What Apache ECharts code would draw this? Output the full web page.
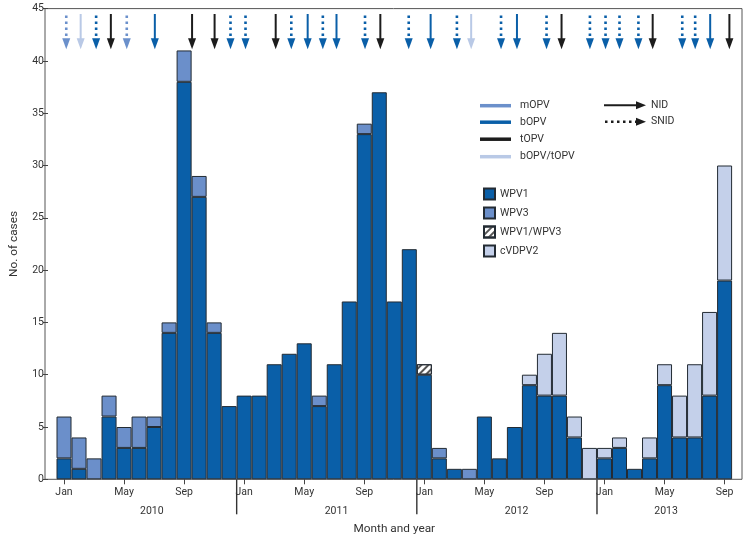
<!DOCTYPE html>
<html><head><meta charset="utf-8">
<script src="https://cdn.jsdelivr.net/npm/echarts@6/dist/echarts.min.js"></script>
<style>html,body{margin:0;padding:0;background:#fff}#c{width:752px;height:543px}</style>
</head><body><div id="c"></div>
<script>
const monthNames = ['Jan','Feb','Mar','Apr','May','Jun','Jul','Aug','Sep','Oct','Nov','Dec'];
const years = ['2010','2011','2012','2013'];
const categories = [];
years.forEach(y => monthNames.forEach(m => { if (categories.length < 45) categories.push(m + ' ' + y); }));

const wpv1   = [2,1,0,6,3,3,5,14,38,27,14,7, 8,8,11,12,13,7,11,17,33,37,17,22, 10,2,1,0,6,2,5,9,8,8,4,0, 2,3,1,2,9,4,4,8,19];
const wpv3   = [4,3,2,2,2,3,1,1,3,2,1,0, 0,0,0,0,0,1,0,0,1,0,0,0, 0,1,0,1,0,0,0,0,0,0,0,0, 0,0,0,0,0,0,0,0,0];
const mixed  = [0,0,0,0,0,0,0,0,0,0,0,0, 0,0,0,0,0,0,0,0,0,0,0,0, 1,0,0,0,0,0,0,0,0,0,0,0, 0,0,0,0,0,0,0,0,0];
const cvdpv2 = [0,0,0,0,0,0,0,0,0,0,0,0, 0,0,0,0,0,0,0,0,0,0,0,0, 0,0,0,0,0,0,0,1,4,6,2,3, 1,1,0,2,2,4,7,8,11];

const yTicks = [0,5,10,15,20,25,30,35,40,45];

// campaign arrows (month index, fractional position within month)
const arrowPos = [0.15,1.11,2.14,3.12,4.18,6.05,8.53,10.03,11.09,12.09,14.1,15.14,16.23,17.24,18.15,20.05,21.07,
                  22.96,24.42,26.17,27.12,29.11,30.17,32.14,33.14,35.03,36.07,37.0,38.26,39.21,41.18,42.04,43.04,44.32];
const arrowVaccine = ['mOPV','bOPV/tOPV','bOPV','tOPV','mOPV','bOPV','tOPV','tOPV','bOPV','bOPV','tOPV','bOPV','bOPV','bOPV','bOPV','bOPV','tOPV',
                      'bOPV','bOPV','bOPV','bOPV/tOPV','bOPV','bOPV','bOPV','tOPV','bOPV','bOPV','bOPV','bOPV','tOPV','bOPV','bOPV','bOPV','tOPV'];
const arrowKind = ['SNID','NID','SNID','NID','SNID','NID','NID','NID','SNID','SNID','NID','SNID','NID','SNID','NID','SNID','NID',
                   'SNID','NID','SNID','NID','SNID','NID','SNID','NID','SNID','SNID','SNID','SNID','NID','SNID','SNID','NID','NID'];

const vaccines = ['mOPV','bOPV','tOPV','bOPV/tOPV'];
const campaignKinds = ['NID','SNID'];
const yearStart = [0,12,24,36];
const yearLabelPos = [5.85,18.15,30.15,40.1];

const vColor = {'mOPV':'#6b90cb','bOPV':'#0a5fa8','tOPV':'#1c1c1c','bOPV/tOPV':'#b9c9e6'};
const FONT = 'Roboto';
const TXT = '#333';
const BORDER = '#232b33';

const nz = arr => arr.map(v => v === 0 ? '-' : v);

const arrowData = arrowPos.map((p,i) => {
  const idx = Math.round(p);
  return [idx, 45, p - idx, vaccines.indexOf(arrowVaccine[i]), campaignKinds.indexOf(arrowKind[i])];
});
const yearData = years.map((y,i) => [yearStart[i], 0, yearLabelPos[i], i]);

const chart = echarts.init(document.getElementById('c'), null, {renderer:'canvas'});

const barBase = {type:'bar', stack:'cases', barCategoryGap:'0%', xAxisIndex:0, yAxisIndex:0};

const option = {
  animation:false,
  backgroundColor:'#fff',
  textStyle:{fontFamily:FONT},
  grid:[
    {left:53.5, top:8.6, width:678.6, bottom:63.7, containLabel:false},
    {left:45, top:8.6, right:10, bottom:63.7, show:true, borderColor:'#555', borderWidth:1, backgroundColor:'transparent'}
  ],
  legend:{
    orient:'vertical', left:483, top:187.5, padding:0, itemWidth:11, itemHeight:11, itemGap:6,
    icon:'rect',
    textStyle:{fontFamily:FONT, fontSize:10.5, color:TXT, padding:[0,0,0,0]},
    data:['WPV1','WPV3','WPV1/WPV3','cVDPV2'],
    selectedMode:false
  },
  xAxis:[
    {type:'category', data:categories, gridIndex:0, boundaryGap:true,
     axisLine:{show:false},
     axisTick:{show:true, interval:3, alignWithLabel:true, length:5, lineStyle:{color:'#444'}},
     axisLabel:{interval:3, margin:8, fontSize:10.5, color:TXT, fontFamily:FONT, formatter:v=>v.split(' ')[0]},
     name:'Month and year', nameLocation:'middle', nameGap:44,
     nameTextStyle:{fontSize:11.8, color:TXT, fontFamily:FONT}},
    {type:'value', gridIndex:1, show:false}
  ],
  yAxis:[
    {type:'value', gridIndex:0, min:0, max:45, interval:5, offset:8.5,
     axisLine:{show:false},
     axisTick:{show:true, length:5, lineStyle:{color:'#444'}},
     axisLabel:{fontSize:10.5, color:TXT, margin:4, fontFamily:FONT, customValues: yTicks},
     splitLine:{show:false},
     name:'No. of cases', nameLocation:'middle', nameGap:28,
     nameTextStyle:{fontSize:11.8, color:TXT, fontFamily:FONT}},
    {type:'value', gridIndex:1, show:false}
  ],
  series:[
    Object.assign({}, barBase, {name:'WPV1', data:nz(wpv1), itemStyle:{color:'#0a5fa8', borderColor:BORDER, borderWidth:1}}),
    Object.assign({}, barBase, {name:'WPV3', data:nz(wpv3), itemStyle:{color:'#6b8fca', borderColor:BORDER, borderWidth:1}}),
    Object.assign({}, barBase, {name:'WPV1/WPV3', data:nz(mixed), itemStyle:{color:'#ffffff', borderColor:BORDER, borderWidth:1,
        decal:{symbol:'rect', symbolSize:1, dashArrayX:[1,0], dashArrayY:[1.3,2.2], rotation:-Math.PI/4, color:'#555'}}}),
    Object.assign({}, barBase, {name:'cVDPV2', data:nz(cvdpv2), itemStyle:{color:'#c4d0ea', borderColor:BORDER, borderWidth:1}}),
    {type:'custom', name:'campaigns', xAxisIndex:0, yAxisIndex:0, data:arrowData, clip:false, silent:true, z:5,
     encode:{x:0, y:1},
     renderItem:function(params, api){
       const idx = api.value(0), off = api.value(2);
       const vac = vaccines[api.value(3)], kind = campaignKinds[api.value(4)];
       const bw = api.size([1,0])[0];
       const c = api.coord([idx, 45]);
       const x = c[0] + off*bw, top = c[1];
       const tip = top + 40.7, headH = 11, headW = 8;
       const col = vColor[vac];
       const dotted = kind === 'SNID';
       return {type:'group', children:[
         {type:'line', shape:{x1:x, y1: dotted ? top+7 : top+5.4, x2:x, y2:tip-headH+1},
          style:{stroke:col, lineWidth: dotted?2.6:2, lineDash: dotted?[2.5,3.5]:null, lineCap:'butt'}},
         {type:'polygon', shape:{points:[[x-headW/2, tip-headH],[x+headW/2, tip-headH],[x, tip]]}, style:{fill:col}}
       ]};
     }},
    {type:'custom', name:'years', xAxisIndex:0, yAxisIndex:0, data:yearData, clip:false, silent:true, z:5,
     encode:{x:0, y:1},
     renderItem:function(params, api){
       const start = api.value(0), pos = api.value(2), yi = api.value(3);
       const bw = api.size([1,0])[0];
       const base = api.coord([start, 0]);
       const xs = base[0] - bw/2, y0 = base[1];
       const li = Math.round(pos);
       const lx = api.coord([li, 0])[0] + (pos - li)*bw;
       const children = [];
       if (start > 0) children.push({type:'line', shape:{x1:xs, y1:y0, x2:xs, y2:y0+35}, style:{stroke:'#333', lineWidth:1.4}});
       children.push({type:'text', x:lx, y:y0+32, style:{text:years[yi], fontSize:10.5, fontFamily:FONT, fill:TXT, align:'center', verticalAlign:'middle'}});
       return {type:'group', children};
     }}
  ],
  graphic:[]
};

// vaccine line legend and campaign-type legend
const g = [];
const legY = [105.7, 122.2, 139.2, 156.7];
vaccines.forEach((v,i) => {
  g.push({type:'line', shape:{x1:480, y1:legY[i], x2:511, y2:legY[i]}, style:{stroke:vColor[v], lineWidth:3.5}});
  g.push({type:'text', x:520, y:legY[i], style:{text:v, fontSize:10.5, fontFamily:FONT, fill:TXT, verticalAlign:'middle'}});
});
const kindY = [105.2, 121.8];
campaignKinds.forEach((k,i) => {
  const dotted = k === 'SNID';
  g.push({type:'line', shape:{x1:dotted?605:604, y1:kindY[i], x2:637, y2:kindY[i]},
          style:{stroke:'#1c1c1c', lineWidth: dotted?2.6:2, lineDash: dotted?[2.5,3.5]:null}});
  g.push({type:'polygon', shape:{points:[[636,kindY[i]-4],[636,kindY[i]+4],[646,kindY[i]]]}, style:{fill:'#1c1c1c'}});
  g.push({type:'text', x:651, y:kindY[i], style:{text:k, fontSize:10.5, fontFamily:FONT, fill:TXT, verticalAlign:'middle'}});
});
option.graphic = g;

chart.setOption(option);
</script>
</body></html>
